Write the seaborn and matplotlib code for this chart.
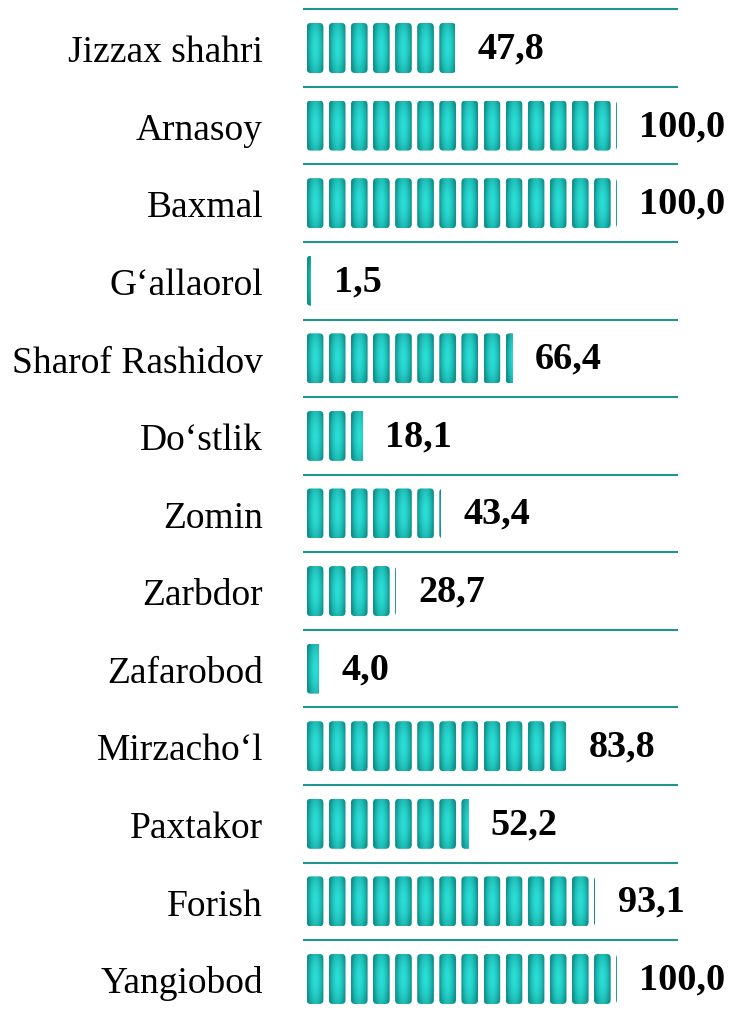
import numpy as np
import pandas as pd
import seaborn as sns
import matplotlib.pyplot as plt
from matplotlib.patches import FancyBboxPatch
from matplotlib.transforms import Bbox, TransformedBbox

districts = ["Jizzax shahri", "Arnasoy", "Baxmal", "G‘allaorol", "Sharof Rashidov",
             "Do‘stlik", "Zomin", "Zarbdor", "Zafarobod", "Mirzacho‘l",
             "Paxtakor", "Forish", "Yangiobod"]
shares = [47.8, 100.0, 100.0, 1.5, 66.4, 18.1, 43.4, 28.7, 4.0, 83.8, 52.2, 93.1, 100.0]

df = pd.DataFrame({"district": districts, "share": shares})

sns.set_style("white")
plt.rcParams["font.family"] = ["Liberation Serif", "DejaVu Serif"]

W, H = 729, 1012
fig = plt.figure(figsize=(W / 100, H / 100), dpi=100)
# axes spans from the left end of the separator lines to their right end
ax = fig.add_axes([303 / W, 0, (678 - 303) / W, 1])

sns.barplot(data=df, x="share", y="district", orient="h", width=0.645,
            color="white", linewidth=0, ax=ax)

px_per_unit = 3.1
x0_px = 306.7
row_px = 77.58
ax.set_xlim((303 - x0_px) / px_per_unit, (678 - x0_px) / px_per_unit)
ax.set_ylim((H - 49) / row_px, -49 / row_px)

# separator lines between the rows
line_col = "#23958f"
ax.hlines(np.arange(len(districts)) - 0.5, *ax.get_xlim(), color=line_col, lw=1.5,
          zorder=1)

# one segment of the pictograph bar: light centre, darker teal edges
ny, nx = 60, 30
yy, xx = np.mgrid[-1:1:ny * 1j, -1:1:nx * 1j]
d = np.clip(np.sqrt(xx ** 2 + 0.45 * yy ** 2), 0, 1)
light = np.array([42, 222, 214]) / 255
dark = np.array([16, 146, 140]) / 255
t = d[..., None] ** 1.8
grad = light[None, None, :] * (1 - t) + dark[None, None, :] * t

period = 22.1 / px_per_unit
seg_w = 16.7 / px_per_unit
r_px = 4
asp = (r_px / row_px) / (r_px / px_per_unit)

bars = list(ax.containers[0])
for p in bars:
    p.set_alpha(0)
    w = p.get_width()
    y0 = p.get_y()
    h = p.get_height()
    clip = TransformedBbox(Bbox.from_bounds(0, y0, w, h), ax.transData)
    n = int(np.ceil(w / period))
    for k in range(n):
        sx = k * period
        seg = FancyBboxPatch((sx, y0), seg_w, h,
                             boxstyle=f"round,pad=0,rounding_size={r_px / px_per_unit}",
                             mutation_aspect=asp, transform=ax.transData,
                             facecolor="none", edgecolor="none")
        im = ax.imshow(grad, extent=(sx, sx + seg_w, y0 + h, y0), aspect="auto",
                       interpolation="bilinear", clip_path=seg, zorder=2)
        im.set_clip_box(clip)

ax.set_xlim((303 - x0_px) / px_per_unit, (678 - x0_px) / px_per_unit)
ax.set_ylim((H - 49) / row_px, -49 / row_px)

labels = [f"{v:.1f}".replace(".", ",") for v in shares]
ax.bar_label(ax.containers[0], labels=labels, padding=16, fontsize=27.5,
             fontweight="bold", color="black")

ax.set_xlabel("")
ax.set_ylabel("")
ax.set_xticks([])
ax.tick_params(axis="y", length=0, pad=28.8, labelsize=27, labelcolor="black")
for s in ax.spines.values():
    s.set_visible(False)

fig.savefig("out.png", dpi=100, facecolor="white")
